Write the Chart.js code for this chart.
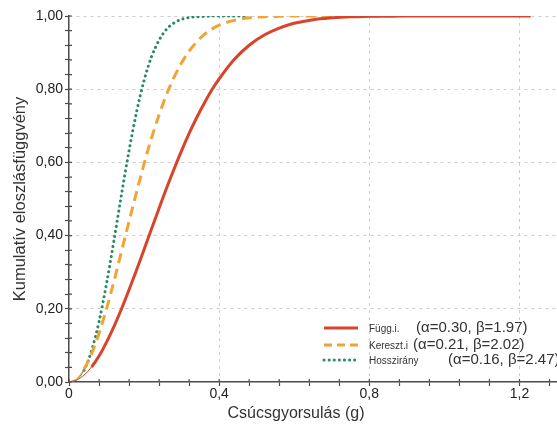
<!DOCTYPE html>
<html>
<head>
<meta charset="utf-8">
<title>Kumulatív eloszlásfüggvény</title>
<script src="https://cdn.jsdelivr.net/npm/chart.js@4.4.1/dist/chart.umd.min.js"></script>
<style>
  body { margin: 0; background: #fff; }
  #cdf-chart { display: block; }
</style>
</head>
<body>
<canvas id="cdf-chart" width="557" height="426"></canvas>
<script>
// peak acceleration (g) and cumulative probability, one pair of arrays per direction
const fuggX = [0, 0.02, 0.04, 0.06, 0.08, 0.10, 0.12, 0.14, 0.16, 0.18, 0.20, 0.22, 0.24, 0.26, 0.28, 0.30, 0.32, 0.34, 0.36, 0.38, 0.40,
  0.44, 0.48, 0.52, 0.56, 0.60, 0.65, 0.70, 0.75, 0.80, 0.90, 1.00, 1.10, 1.23];
const fuggY = [0, 0.005, 0.019, 0.041, 0.071, 0.109, 0.152, 0.200, 0.252, 0.306, 0.362, 0.419, 0.475, 0.530, 0.582, 0.632, 0.679, 0.722, 0.761, 0.797, 0.828,
  0.881, 0.920, 0.948, 0.967, 0.980, 0.990, 0.995, 0.998, 0.999, 1, 1, 1, 1];

const keresztX = [0, 0.02, 0.04, 0.06, 0.08, 0.10, 0.12, 0.14, 0.16, 0.18, 0.20, 0.22, 0.24, 0.26, 0.28, 0.30, 0.32, 0.34, 0.36, 0.38, 0.40,
  0.44, 0.48, 0.52, 0.56, 0.60, 0.70, 0.87];
const keresztY = [0, 0.009, 0.035, 0.077, 0.133, 0.200, 0.276, 0.357, 0.439, 0.519, 0.596, 0.667, 0.730, 0.786, 0.833, 0.872, 0.904, 0.929, 0.949, 0.964, 0.975,
  0.988, 0.995, 0.998, 0.999, 1, 1, 1];

const hosszX = [0, 0.02, 0.04, 0.06, 0.08, 0.10, 0.12, 0.14, 0.16, 0.18, 0.20, 0.22, 0.24, 0.26, 0.28, 0.30, 0.32, 0.34, 0.36, 0.40, 0.47];
const hosszY = [0, 0.006, 0.032, 0.085, 0.165, 0.269, 0.388, 0.513, 0.632, 0.738, 0.824, 0.889, 0.934, 0.964, 0.981, 0.991, 0.996, 0.998, 0.999, 1, 1];

const seriesNames = ["Függ.i.", "Kereszt.i", "Hosszirány"];
const paramLabels = ["(α=0.30, β=1.97)", "(α=0.21, β=2.02)", "(α=0.16, β=2.47)"];

// labelled ticks, minor ticks go in between (5 steps per interval)
const xMajorTicks = [0, 0.4, 0.8, 1.2];
const xTickLabels = ["0", "0,4", "0,8", "1,2"];
const yMajorTicks = [0, 0.2, 0.4, 0.6, 0.8, 1.0];
const yTickLabels = ["0,00", "0,20", "0,40", "0,60", "0,80", "1,00"];

const xTitle = "Csúcsgyorsulás (g)";
const yTitle = "Kumulatív eloszlásfüggvény";

const FONT = "'Liberation Sans', Arial, Helvetica, sans-serif";
const AXIS_COLOR = "#4a4a4a";

function toPoints(xs, ys) {
  return xs.map((x, i) => ({ x: x, y: ys[i] }));
}

// all tick values at major/5 spacing up to the axis max, majors flagged
function buildTicks(majors, max) {
  const step = (majors[1] - majors[0]) / 5;
  const ticks = [];
  for (let i = 0; i * step <= max + 1e-9; i++) {
    const v = Math.round(i * step * 1000) / 1000;
    const idx = majors.findIndex((m) => Math.abs(m - v) < 1e-9);
    ticks.push({ value: v, isMajor: idx >= 0, labelIdx: idx });
  }
  return ticks;
}

// thin start of each curve, then the full line style
function thinStart(limit) {
  return {
    borderWidth: (ctx) => (ctx.p1.parsed.x <= limit ? 1 : undefined),
    borderDash: (ctx) => (ctx.p1.parsed.x <= limit ? [] : undefined),
  };
}

function majorGridColor(ctx) {
  return ctx.tick && ctx.tick.isMajor && ctx.tick.value > 0 ? "#cdcdcd" : "rgba(0,0,0,0)";
}

// tick marks reach into the plot as well, so they cross the axis line
const crossTicks = {
  id: "crossTicks",
  afterDraw(chart) {
    const ctx = chart.ctx;
    const xs = chart.scales.x;
    const ys = chart.scales.y;
    ctx.save();
    ctx.strokeStyle = AXIS_COLOR;
    ctx.lineWidth = 1.2;
    ctx.beginPath();
    xs.ticks.forEach((t) => {
      const px = xs.getPixelForValue(t.value);
      ctx.moveTo(px, ys.bottom);
      ctx.lineTo(px, ys.bottom - 3);
    });
    ys.ticks.forEach((t) => {
      const py = ys.getPixelForValue(t.value);
      ctx.moveTo(xs.left, py);
      ctx.lineTo(xs.left + 3, py);
    });
    ctx.stroke();
    ctx.restore();
  },
};

// x axis title sits a little left of the plot centre
const xAxisTitle = {
  id: "xAxisTitle",
  afterDraw(chart, args, opts) {
    const ctx = chart.ctx;
    ctx.save();
    ctx.fillStyle = "#333";
    ctx.font = opts.size + "px " + FONT;
    ctx.textAlign = "center";
    ctx.textBaseline = "middle";
    ctx.fillText(xTitle, opts.x, opts.y);
    ctx.restore();
  },
};

// legend: line sample, small series name, fitted parameters
const paramLegend = {
  id: "paramLegend",
  afterDraw(chart, args, opts) {
    const ctx = chart.ctx;
    ctx.save();
    chart.data.datasets.forEach((ds, i) => {
      const y = opts.rows[i];
      ctx.strokeStyle = ds.borderColor;
      ctx.lineWidth = 3;
      ctx.lineCap = ds.borderCapStyle || "butt";
      ctx.setLineDash(opts.dashes[i]);
      ctx.beginPath();
      ctx.moveTo(opts.lineStart, y);
      ctx.lineTo(opts.lineEnd, y);
      ctx.stroke();
      ctx.setLineDash([]);

      ctx.fillStyle = "#333";
      ctx.textBaseline = "middle";
      ctx.font = "10px " + FONT;
      ctx.fillText(ds.label, opts.nameX, y + 1);
      ctx.font = "15px " + FONT;
      ctx.fillText(paramLabels[i], opts.paramX[i], y);
    });
    ctx.restore();
  },
};

const X_MAX = 1.3;

new Chart(document.querySelector("#cdf-chart").getContext("2d"), {
  type: "line",
  data: {
    datasets: [
      {
        label: seriesNames[0],
        data: toPoints(fuggX, fuggY),
        borderColor: "#d8432c",
        borderWidth: 3,
        segment: thinStart(0.06),
      },
      {
        label: seriesNames[1],
        data: toPoints(keresztX, keresztY),
        borderColor: "#efa534",
        borderWidth: 3,
        borderDash: [10, 6],
        segment: thinStart(0.04),
      },
      {
        label: seriesNames[2],
        data: toPoints(hosszX, hosszY),
        borderColor: "#2c8a62",
        borderWidth: 3,
        borderDash: [0.1, 5],
        borderCapStyle: "round",
        segment: thinStart(0.04),
      },
    ],
  },
  options: {
    responsive: false,
    animation: false,
    events: [],
    layout: { padding: { top: 16, right: 0, left: 0, bottom: 0 } },
    elements: {
      point: { radius: 0 },
      line: { cubicInterpolationMode: "monotone", fill: false },
    },
    scales: {
      x: {
        type: "linear",
        min: 0,
        max: X_MAX,
        afterBuildTicks: (scale) => {
          scale.ticks = buildTicks(xMajorTicks, X_MAX);
        },
        afterFit: (scale) => {
          scale.height = 44;
        },
        ticks: {
          autoSkip: false,
          maxRotation: 0,
          padding: 0,
          color: "#222",
          font: { family: FONT, size: 14 },
          callback: (value, index, ticks) =>
            ticks[index].isMajor ? xTickLabels[ticks[index].labelIdx] : "",
        },
        grid: {
          color: majorGridColor,
          lineWidth: 1,
          tickColor: AXIS_COLOR,
          tickLength: 4,
          tickWidth: 1.2,
        },
        border: { color: AXIS_COLOR, width: 1.5, dash: [3, 4] },
      },
      y: {
        min: 0,
        max: 1,
        afterBuildTicks: (scale) => {
          scale.ticks = buildTicks(yMajorTicks, 1);
        },
        afterFit: (scale) => {
          scale.width = 69;
        },
        ticks: {
          autoSkip: false,
          padding: 2,
          color: "#222",
          font: { family: FONT, size: 14 },
          callback: (value, index, ticks) =>
            ticks[index].isMajor ? yTickLabels[ticks[index].labelIdx] : "",
        },
        grid: {
          color: majorGridColor,
          lineWidth: 1,
          tickColor: AXIS_COLOR,
          tickLength: 4,
          tickWidth: 1.2,
        },
        border: { color: AXIS_COLOR, width: 1.5, dash: [3, 4] },
        title: {
          display: true,
          text: yTitle,
          color: "#333",
          font: { family: FONT, size: 16.5 },
          padding: { top: 11, bottom: 0 },
        },
      },
    },
    plugins: {
      legend: { display: false },
      tooltip: { enabled: false },
      xAxisTitle: { x: 296, y: 414, size: 16 },
      paramLegend: {
        rows: [328, 345, 360],
        lineStart: 324,
        lineEnd: 358,
        nameX: 369,
        paramX: [416, 413, 448],
        dashes: [[], [8, 5], [0.1, 5]],
      },
    },
  },
  plugins: [crossTicks, xAxisTitle, paramLegend],
});
</script>
</body>
</html>
